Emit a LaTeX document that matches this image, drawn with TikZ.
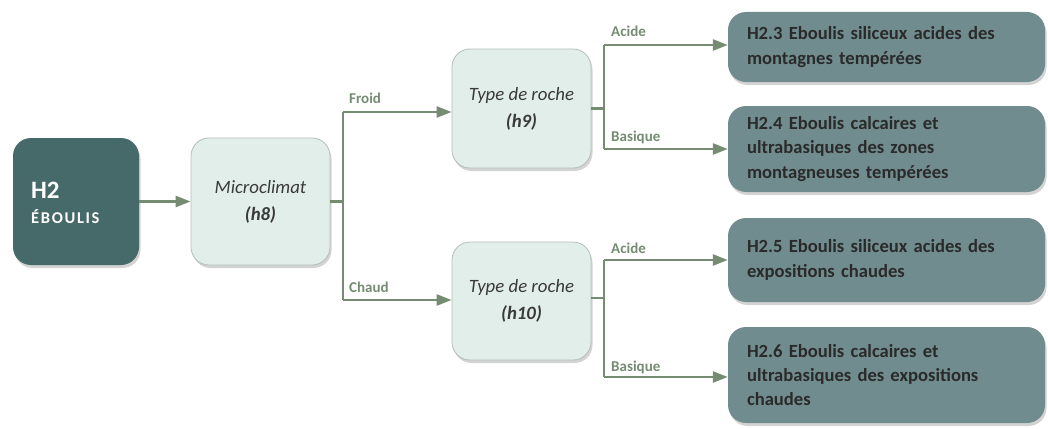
\documentclass[tikz,border=0pt]{standalone}
\usepackage{fontspec}
\setmainfont{Carlito}
\usetikzlibrary{arrows.meta,shadows,calc}
\definecolor{darkteal}{HTML}{466A69}
\definecolor{lightbox}{HTML}{E2EEE9}
\definecolor{lightborder}{HTML}{B3BFBB}
\definecolor{resbox}{HTML}{718C8F}
\definecolor{restext}{HTML}{2A2A2A}
\definecolor{arrcol}{HTML}{758C72}
\definecolor{qtext}{HTML}{3A3A3A}
\definecolor{qcode}{HTML}{474C58}
\tikzset{
  shad/.style={drop shadow={opacity=0.35,shadow xshift=1.5pt,shadow yshift=-3pt}},
  rootbox/.style={shad,fill=darkteal,rounded corners=18pt,minimum width=126pt,minimum height=127pt,inner sep=0pt,text=white},
  qbox/.style={shad,fill=lightbox,draw=lightborder,line width=0.8pt,rounded corners=18pt,minimum width=139pt,inner sep=0pt,align=center,text=qtext,font=\fontsize{18.8}{27}\selectfont\itshape},
  resnode/.style={shad,fill=resbox,rounded corners=18pt,minimum width=317pt,text width=279pt,inner xsep=19pt,inner ysep=0pt,align=left,text=restext,font=\fontsize{18.6}{24.3}\selectfont\bfseries},
  conn/.style={draw=arrcol,line width=2.6pt},
  arr/.style={conn,-{Triangle[length=15pt,width=11pt]}},
  lab/.style={text=arrcol,font=\fontsize{15}{15}\selectfont\bfseries,inner sep=0pt,anchor=west}
}
\begin{document}
\begin{tikzpicture}[x=1pt,y=-1pt]
\useasboundingbox (0,0) rectangle (1048,428);
% nodes
\node[rootbox] (root) at (76,201.5) {};
\node[text=white,anchor=west,inner sep=0pt,font=\fontsize{25}{25}\selectfont\bfseries] (rootA) at (31,190) {H2};
\node[text=white,anchor=west,inner sep=0pt,font=\fontsize{16.5}{17}\selectfont\bfseries\addfontfeatures{LetterSpace=10}] (rootB) at (31,217) {ÉBOULIS};
\node[qbox,minimum height=127pt] (micro) at (260.5,201.5) {Microclimat\\\textbf{(h8)}};
\node[qbox,minimum height=119pt] (h9) at (521.5,108.5) {Type de roche\\\textbf{(h9)}};
\node[qbox,minimum height=118pt] (h10) at (521.5,301) {Type de roche\\\textbf{(h10)}};
\node[resnode,minimum height=70pt] (r1) at (886.5,47) {H2.3 Eboulis siliceux acides des\\montagnes tempérées};
\node[resnode,minimum height=86pt] (r2) at (886.5,149) {H2.4 Eboulis calcaires et\\ultrabasiques des zones\\montagneuses tempérées};
\node[resnode,minimum height=84pt] (r3) at (886.5,260) {H2.5 Eboulis siliceux acides des\\expositions chaudes};
\node[resnode,minimum height=96pt] (r4) at (886.5,375) {H2.6 Eboulis calcaires et\\ultrabasiques des expositions\\chaudes};
% junction coordinates
\coordinate (j1) at (343,201.5);
\coordinate (froid) at (343,112);
\coordinate (chaud) at (343,300);
\coordinate (j2) at (604,108.5);
\coordinate (a1) at (604,45);
\coordinate (b1) at (604,149);
\coordinate (j3) at (604,298);
\coordinate (a2) at (604,260);
\coordinate (b2) at (604,377);
% connectors
\draw[arr] (root.east) -- (micro.west);
\draw[conn] (micro.east) -- (j1);
\draw[conn] (froid) -- (chaud);
\draw[arr] (froid) -- (froid -| h9.west);
\draw[arr] (chaud) -- (chaud -| h10.west);
\draw[conn] (h9.east) -- (j2);
\draw[conn] (a1) -- (b1);
\draw[arr] (a1) -- (a1 -| r1.west);
\draw[arr] (b1) -- (b1 -| r2.west);
\draw[conn] (h10.east |- j3) -- (j3);
\draw[conn] (a2) -- (b2);
\draw[arr] (a2) -- (a2 -| r3.west);
\draw[arr] (b2) -- (b2 -| r4.west);
% labels
\node[lab] (lfroid) at (349,98) {Froid};
\node[lab] (lchaud) at (349,287) {Chaud};
\node[lab] (la1) at (611,31) {Acide};
\node[lab] (lb1) at (611,137) {Basique};
\node[lab] (la2) at (611,248) {Acide};
\node[lab] (lb2) at (611,367) {Basique};
\end{tikzpicture}
\end{document}
